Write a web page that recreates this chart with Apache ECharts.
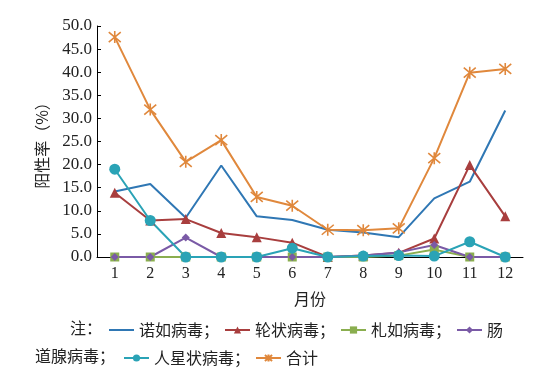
<!DOCTYPE html>
<html><head><meta charset="utf-8">
<script src="https://cdn.jsdelivr.net/npm/echarts@6/dist/echarts.min.js"></script>
<style>html,body{margin:0;padding:0;background:#fff}#c{width:544px;height:372px}</style>
</head><body><div id="c"></div>
<script>
var months = ['1','2','3','4','5','6','7','8','9','10','11','12'];
var norovirus   = [14.2, 15.8, 8.5, 19.8, 8.8, 8.0, 5.9, 5.3, 4.3, 12.7, 16.3, 31.7];
var rotavirus   = [13.9, 7.9, 8.2, 5.2, 4.3, 3.1, 0, 0.3, 0.9, 4.0, 19.9, 8.8];
var sapovirus   = [0, 0, 0, 0, 0, 0, 0, 0, 0.3, 1.6, 0, 0];
var adenovirus  = [0, 0, 4.2, 0, 0, 0, 0, 0.3, 1.0, 2.6, 0, 0];
var astrovirus  = [19.0, 7.9, 0, 0, 0, 1.9, 0, 0.2, 0.3, 0.2, 3.3, 0];
var total       = [47.6, 31.9, 20.6, 25.3, 13.0, 11.1, 5.9, 5.8, 6.2, 21.4, 39.9, 40.7];
var yTicks = {min: 0, max: 50, interval: 5};

var serif = '"Liberation Serif","Times New Roman",serif';
var cjk = '"Noto Sans CJK SC","Noto Sans",sans-serif';
var starPath = 'path://M0,0L10,10M10,0L0,10M5,-1L5,11';

var chart = echarts.init(document.getElementById('c'));
function mk(name, data, color, symbol, size, extra) {
  var s = {
    name: name, type: 'line', data: data, symbol: symbol, symbolSize: size,
    showSymbol: symbol !== 'none',
    lineStyle: {color: color, width: 2},
    itemStyle: {color: color},
    emphasis: {disabled: true}, animation: false
  };
  if (extra) Object.assign(s.itemStyle, extra);
  return s;
}
chart.setOption({
  animation: false,
  grid: {left: 97, right: 21, top: 26, bottom: 115},
  xAxis: {
    type: 'category', data: months, boundaryGap: true,
    name: '月份', nameLocation: 'middle', nameGap: 34,
    nameTextStyle: {fontFamily: cjk, fontSize: 16, color: '#222'},
    axisLine: {lineStyle: {color: '#000', width: 1}},
    axisTick: {inside: true, length: 5, lineStyle: {color: '#000'}},
    axisLabel: {fontFamily: serif, fontSize: 16, color: '#222', margin: 9}
  },
  yAxis: {
    type: 'value', min: yTicks.min, max: yTicks.max, interval: yTicks.interval,
    name: '阳性率（%）', nameLocation: 'middle', nameGap: 47, nameRotate: 90,
    nameTextStyle: {fontFamily: cjk, fontSize: 16, color: '#222'},
    axisLine: {show: true, lineStyle: {color: '#000', width: 1}},
    axisTick: {show: true, inside: true, length: 4, lineStyle: {color: '#000'}},
    splitLine: {show: false},
    axisLabel: {fontFamily: serif, fontSize: 17, color: '#222', margin: 5,
      formatter: function (v) { return v.toFixed(1); }}
  },
  legend: [{
    data: [{name: '诺如病毒', itemStyle: {color: 'transparent', borderWidth: 0}}, '轮状病毒', '札如病毒', '肠道腺病毒'],
    left: 108, top: 322, padding: 0, orient: 'horizontal', itemWidth: 25, itemHeight: 9, itemGap: 5,
    textStyle: {fontFamily: cjk, fontSize: 16, color: '#222'},
    formatter: function (n) { return n === '肠道腺病毒' ? '肠' : n + '；'; }
  }, {
    data: ['人星状病毒', '合计'],
    left: 123, top: 350, padding: 0, orient: 'horizontal', itemWidth: 25, itemHeight: 9, itemGap: 5,
    textStyle: {fontFamily: cjk, fontSize: 16, color: '#222'},
    formatter: function (n) { return n === '合计' ? n : n + '；'; }
  }],
  graphic: [
    {type: 'text', left: 70, top: 320, style: {text: '注：', font: '16px ' + cjk, fill: '#222'}},
    {type: 'text', left: 35, top: 348, style: {text: '道腺病毒；', font: '16px ' + cjk, fill: '#222'}}
  ],
  series: [
    mk('诺如病毒', norovirus, '#2f77b4', 'none', 0),
    mk('轮状病毒', rotavirus, '#a83e3e', 'triangle', 10),
    mk('札如病毒', sapovirus, '#8aae4f', 'rect', 9),
    mk('肠道腺病毒', adenovirus, '#7a5aa6', 'diamond', 8),
    mk('人星状病毒', astrovirus, '#2aa3b6', 'circle', 11),
    mk('合计', total, '#e0883c', starPath, 12, {borderColor: '#e0883c', borderWidth: 1.6})
  ]
});
</script></body></html>
